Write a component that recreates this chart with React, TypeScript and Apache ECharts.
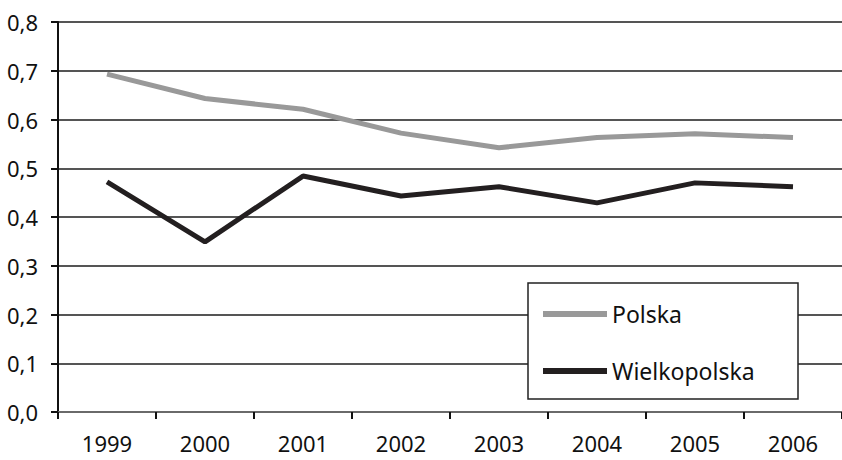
import React, { useEffect, useRef } from "react";
import * as echarts from "echarts";

const years = ["1999", "2000", "2001", "2002", "2003", "2004", "2005", "2006"];
const polska = [0.693, 0.643, 0.621, 0.572, 0.542, 0.563, 0.571, 0.563];
const wielkopolska = [0.472, 0.349, 0.484, 0.443, 0.462, 0.429, 0.47, 0.462];
const seriesNames = ["Polska", "Wielkopolska"];

const FONT = "'Noto Sans', 'Open Sans', sans-serif";

export default function App() {
  const ref = useRef<HTMLDivElement>(null);
  useEffect(() => {
    document.body.style.margin = "0";
    const chart = echarts.init(ref.current!, null, { renderer: "svg" });
    chart.setOption({
      animation: false,
      backgroundColor: "#ffffff",
      textStyle: { fontFamily: FONT },
      grid: { left: 58, right: 0, top: 22, bottom: 48 },
      xAxis: {
        type: "category",
        data: years,
        boundaryGap: true,
        axisLine: { show: true, lineStyle: { color: "#6a6a6a", width: 2 } },
        axisTick: { show: true, length: 7, lineStyle: { color: "#111", width: 2 } },
        axisLabel: {
          color: "#111",
          fontSize: 22,
          lineHeight: 22,
          margin: 20,
          fontFamily: FONT,
        },
        splitLine: { show: false },
      },
      yAxis: {
        type: "value",
        min: 0,
        max: 0.8,
        interval: 0.1,
        axisLine: { show: true, lineStyle: { color: "#111", width: 2 } },
        axisTick: { show: true, length: 7, lineStyle: { color: "#111", width: 2 } },
        axisLabel: {
          color: "#111",
          fontSize: 22,
          margin: 20,
          fontFamily: FONT,
          formatter: (v: number) => v.toFixed(1).replace(".", ","),
        },
        splitLine: { show: true, lineStyle: { color: "#555", width: 2 } },
      },
      graphic: [
        {
          type: "rect",
          z: 5,
          shape: { x: 528, y: 283, width: 270, height: 116 },
          style: { fill: "#fff", stroke: "#222", lineWidth: 1.5 },
        },
      ],
      legend: {
        z: 10,
        orient: "vertical",
        left: 543,
        top: 302,
        itemGap: 33,
        itemWidth: 64,
        itemHeight: 6,
        itemTextGap: 5,
        icon: "rect",
        padding: 0,
        textStyle: { color: "#111", fontSize: 23, lineHeight: 24, fontFamily: FONT },
        data: seriesNames,
      },
      series: [
        {
          name: seriesNames[0],
          type: "line",
          data: polska,
          symbol: "none",
          lineStyle: { color: "#999999", width: 5 },
          itemStyle: { color: "#999999" },
        },
        {
          name: seriesNames[1],
          type: "line",
          data: wielkopolska,
          symbol: "none",
          lineStyle: { color: "#231f20", width: 5 },
          itemStyle: { color: "#231f20" },
        },
      ],
    });
    return () => chart.dispose();
  }, []);
  return (
    <div
      ref={ref}
      style={{ position: "fixed", left: 0, top: 0, width: 842, height: 460 }}
    />
  );
}
